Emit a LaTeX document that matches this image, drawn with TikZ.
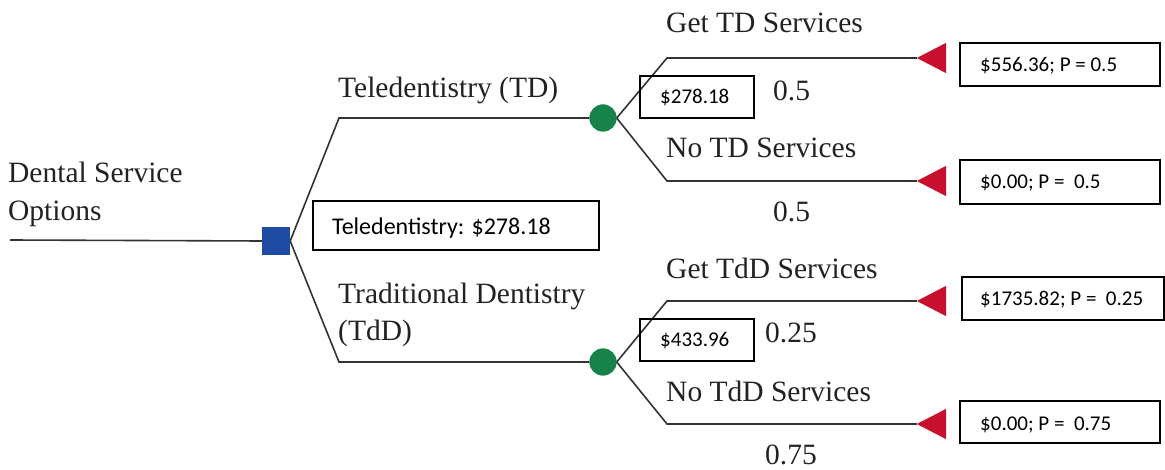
\documentclass[tikz,border=0pt]{standalone}
\usepackage{fontspec}
\setmainfont{Liberation Serif}
\newfontfamily\calib{Carlito}
\definecolor{linec}{HTML}{333333}
\definecolor{sqblue}{HTML}{1F4BA5}
\definecolor{cgreen}{HTML}{17824A}
\definecolor{tred}{HTML}{C8102E}
\definecolor{txt}{HTML}{222222}
\tikzset{
  branch/.style={draw=linec, line width=1.6pt},
  lbl/.style={anchor=base west, inner sep=0pt, text=txt, font=\fontsize{29.5}{36}\selectfont},
  valbox/.style={draw=black, line width=1.6pt, inner sep=0pt, anchor=north west},
  valtext/.style={anchor=base west, inner sep=0pt, font=\calib\fontsize{21}{25}\selectfont},
  decision/.style={rectangle, fill=sqblue, minimum size=28pt, inner sep=0pt},
  chance/.style={circle, fill=cgreen, minimum size=27pt, inner sep=0pt},
  terminal/.style={rectangle, minimum width=29pt, minimum height=30pt, inner sep=0pt},
}
\begin{document}
\begin{tikzpicture}[x=1pt, y=-1pt]
\useasboundingbox (0,0) rectangle (1165,470);
% nodes
\coordinate (root) at (10,240);
\node[decision] (sq) at (276,241) {};
\node[chance] (c1) at (603,118) {};
\node[chance] (c2) at (603,362) {};
\node[terminal] (t1) at (931.5,58) {};
\node[terminal] (t2) at (931.5,181) {};
\node[terminal] (t3) at (931.5,301) {};
\node[terminal] (t4) at (931.5,424) {};
\foreach \t in {t1,t2,t3,t4}{
  \fill[tred] (\t.west) -- (\t.north east) -- (\t.south east) -- cycle;
}
\coordinate (k1) at (339,118);
\coordinate (k2) at (339,362);
\coordinate (k3) at (667,58);
\coordinate (k4) at (667,181);
\coordinate (k5) at (667,301);
\coordinate (k6) at (667,424);
% connectors
\draw[branch] (root) -- (sq.west);
\draw[branch] (sq.east) -- (k1) -- (c1.west);
\draw[branch] (sq.east) -- (k2) -- (c2.west);
\draw[branch] (c1.east) -- (k3) -- (t1.west);
\draw[branch] (c1.east) -- (k4) -- (t2.west);
\draw[branch] (c2.east) -- (k5) -- (t3.west);
\draw[branch] (c2.east) -- (k6) -- (t4.west);
\node[decision] at (sq) {};
\node[chance] at (c1) {};
\node[chance] at (c2) {};
% labels
\node[lbl] (l0) at (8,183) {Dental Service};
\node[lbl] (l0b) at (8,221) {Options};
\node[lbl] (l1) at (338,98) {Teledentistry (TD)};
\node[lbl] (l2) at (338,304) {Traditional Dentistry};
\node[lbl] (l2b) at (338,341) {(TdD)};
\node[lbl] (l3) at (666,33) {Get TD Services};
\node[lbl] (l4) at (666,158) {No TD Services};
\node[lbl] (l5) at (666,279) {Get TdD Services};
\node[lbl] (l6) at (666,401) {No TdD Services};
\node[lbl] (p1) at (773,101) {0.5};
\node[lbl] (p2) at (773,222) {0.5};
\node[lbl] (p3) at (765,343) {0.25};
\node[lbl] (p4) at (765,464) {0.75};
% value boxes
\node[valbox, minimum width=286pt, minimum height=49pt] (b0) at (312,200) {};
\node[valtext, font=\calib\fontsize{24}{28}\selectfont] (v0) at (332,235) {Teledentistry: \$278.18};
\node[valbox, minimum width=114pt, minimum height=42pt] (b1) at (639,75) {};
\node[valtext] (v1) at (660,104) {\$278.18};
\node[valbox, minimum width=114pt, minimum height=42pt] (b2) at (639,318) {};
\node[valtext] (v2) at (660,347) {\$433.96};
\node[valbox, minimum width=200pt, minimum height=43pt] (b3) at (959,42) {};
\node[valtext] (v3) at (980,72) {\$556.36; P = 0.5};
\node[valbox, minimum width=200pt, minimum height=44pt] (b4) at (959,159) {};
\node[valtext] (v4) at (980,189) {\$0.00; P =\ \ 0.5};
\node[valbox, minimum width=202pt, minimum height=43pt] (b5) at (961,276) {};
\node[valtext] (v5) at (980,306) {\$1735.82; P =\ \ 0.25};
\node[valbox, minimum width=200pt, minimum height=42pt] (b6) at (959,400) {};
\node[valtext] (v6) at (980,430) {\$0.00; P =\ \ 0.75};
\end{tikzpicture}
\end{document}
